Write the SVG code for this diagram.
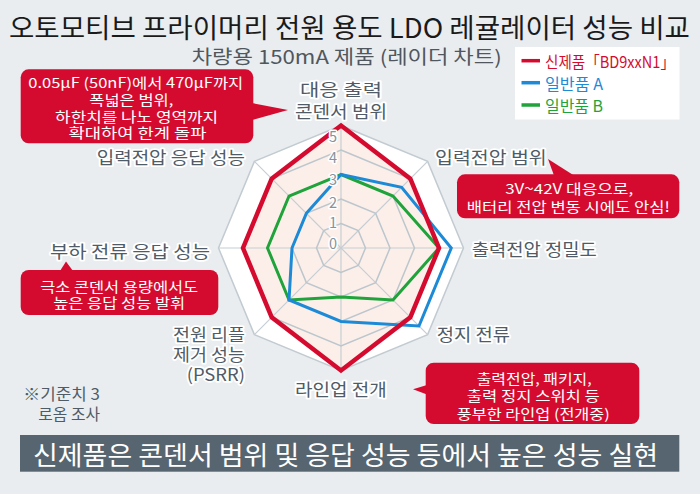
<svg xmlns="http://www.w3.org/2000/svg" width="700" height="494" viewBox="0 0 700 494">
<defs>
<style>
text{font-family:"Noto Sans CJK KR","Noto Sans",sans-serif;dominant-baseline:central}
.title{font-size:27px;fill:#1a1a1a;text-anchor:middle}
.sub{font-size:19px;fill:#50575e;text-anchor:middle}
.ax{font-size:17px;fill:#4f5b66;stroke:#fff;stroke-width:3.5px;stroke-linejoin:round;paint-order:stroke}
.sc{font-size:14.5px;fill:#87929b;stroke:#fff;stroke-width:3px;stroke-linejoin:round;paint-order:stroke;text-anchor:middle}
.note{font-size:15.5px;fill:#4f5b66}
.co{fill:#d40b2f}
.cot{font-size:14px;fill:#fff;text-anchor:middle}
.ring{fill:none;stroke:#bcc6cd;stroke-width:1.5}
.spoke{stroke:#c6ced4;stroke-width:1.2}
.lg{font-size:16px}
</style>
</defs>
<rect x="0" y="0" width="700" height="494" fill="#e9edf0"/>

<g id="title">
<text class="title" x="349.5" y="26" textLength="681" lengthAdjust="spacingAndGlyphs">오토모티브 프라이머리 전원 용도 LDO 레귤레이터 성능 비교</text>
<text class="sub" x="346.7" y="55" textLength="310" lengthAdjust="spacingAndGlyphs">차량용 150mA 제품 (레이더 차트)</text>
</g>

<g id="legend">
<rect x="515" y="47" width="164.5" height="72.5" fill="#fff"/>
<line x1="521.5" y1="60.7" x2="540" y2="60.7" stroke="#d40b2f" stroke-width="3.5"/>
<line x1="521.5" y1="82.7" x2="540" y2="82.7" stroke="#1c8ad6" stroke-width="3.5"/>
<line x1="521.5" y1="105" x2="540" y2="105" stroke="#1fa33a" stroke-width="3.5"/>
<text class="lg" x="545" y="61" fill="#d40b2f" textLength="130" lengthAdjust="spacingAndGlyphs">신제품「BD9xxN1」</text>
<text class="lg" x="545" y="83" fill="#1c8ad6" textLength="58" lengthAdjust="spacingAndGlyphs">일반품 A</text>
<text class="lg" x="545" y="105" fill="#1fa33a" textLength="58" lengthAdjust="spacingAndGlyphs">일반품 B</text>
</g>

<g id="radar-grid">
<polygon points="341,125.5 427.62,161.38 463.5,248 427.62,334.62 341,370.5 254.38,334.62 218.5,248 254.38,161.38" fill="#fff" stroke="#c2cbd1" stroke-width="1.5"/>
<polygon points="341,125.5 410.3,178.7 439,248 410.3,317.3 341,370.5 271.7,317.3 243,248 271.7,178.7" fill="#fcefe9"/>
<g class="spoke">
<line x1="341" y1="248" x2="341" y2="125.5"/>
<line x1="341" y1="248" x2="427.62" y2="161.38"/>
<line x1="341" y1="248" x2="463.5" y2="248"/>
<line x1="341" y1="248" x2="427.62" y2="334.62"/>
<line x1="341" y1="248" x2="341" y2="370.5"/>
<line x1="341" y1="248" x2="254.38" y2="334.62"/>
<line x1="341" y1="248" x2="218.5" y2="248"/>
<line x1="341" y1="248" x2="254.38" y2="161.38"/>
</g>
<polygon class="ring" points="341,223.5 358.32,230.68 365.5,248 358.32,265.32 341,272.5 323.68,265.32 316.5,248 323.68,230.68"/>
<polygon class="ring" points="341,199 375.65,213.35 390,248 375.65,282.65 341,297 306.35,282.65 292,248 306.35,213.35"/>
<polygon class="ring" points="341,174.5 392.97,196.03 414.5,248 392.97,299.97 341,321.5 289.03,299.97 267.5,248 289.03,196.03"/>
<polygon class="ring" points="341,150 410.3,178.7 439,248 410.3,317.3 341,346 271.7,317.3 243,248 271.7,178.7"/>
</g>

<g id="series">
<polygon id="series-b" points="341,174.5 392.97,196.03 439,248 392.97,299.97 341,297 289.03,299.97 267.5,248 289.03,196.03" fill="none" stroke="#1fa33a" stroke-width="3"/>
<polygon id="series-a" points="341,174.5 401.63,187.37 451.25,248 418.96,325.96 341,321.5 289.03,299.97 292,248 306.35,213.35" fill="none" stroke="#1c8ad6" stroke-width="3"/>
<polygon id="series-new" points="341,125.5 410.3,178.7 439,248 410.3,317.3 341,370.5 271.7,317.3 243,248 271.7,178.7" fill="none" stroke="#d40b2f" stroke-width="4.5"/>
</g>

<g id="scale">
<text class="sc" x="333" y="135">5</text>
<text class="sc" x="333" y="156">4</text>
<text class="sc" x="333" y="178.5">3</text>
<text class="sc" x="333" y="201">2</text>
<text class="sc" x="333" y="221.7">1</text>
<text class="sc" x="333" y="242.5">0</text>
</g>

<g id="axis-labels">
<text class="ax" x="300" y="88" textLength="82" lengthAdjust="spacingAndGlyphs">대응 출력</text>
<text class="ax" x="295" y="110" textLength="92" lengthAdjust="spacingAndGlyphs">콘덴서 범위</text>
<text class="ax" x="435" y="156" textLength="111.7" lengthAdjust="spacingAndGlyphs">입력전압 범위</text>
<text class="ax" x="471.7" y="248" textLength="125" lengthAdjust="spacingAndGlyphs">출력전압 정밀도</text>
<text class="ax" x="436.7" y="333" textLength="73.3" lengthAdjust="spacingAndGlyphs">정지 전류</text>
<text class="ax" x="295" y="388.5" textLength="91.7" lengthAdjust="spacingAndGlyphs">라인업 전개</text>
<text class="ax" x="173" y="333.5" textLength="72" lengthAdjust="spacingAndGlyphs">전원 리플</text>
<text class="ax" x="173" y="353.5" textLength="72" lengthAdjust="spacingAndGlyphs">제거 성능</text>
<text class="ax" x="186.7" y="373.5" textLength="58.3" lengthAdjust="spacingAndGlyphs">(PSRR)</text>
<text class="ax" x="50" y="250" textLength="160" lengthAdjust="spacingAndGlyphs">부하 전류 응답 성능</text>
<text class="ax" x="96.7" y="156.7" textLength="148.3" lengthAdjust="spacingAndGlyphs">입력전압 응답 성능</text>
</g>

<g id="note">
<text class="note" x="23.3" y="393.3" textLength="76.7" lengthAdjust="spacingAndGlyphs">※기준치 3</text>
<text class="note" x="38.3" y="412.7" textLength="61.7" lengthAdjust="spacingAndGlyphs">로옴 조사</text>
</g>

<g id="connectors">
<polygon class="co" points="252,103 288,110 252,120"/>
<polygon class="co" points="554,175.5 548,159 574,175.5"/>
<polygon class="co" points="60,271 66,261.5 73,271"/>
<polygon class="co" points="427,385 413,389.3 427,394.5"/>
</g>

<g id="callout-capacitor">
<rect class="co" x="20.7" y="69.3" width="232.6" height="74" rx="8"/>
<text class="cot" x="135.8" y="81.7" textLength="215" lengthAdjust="spacingAndGlyphs">0.05μF (50nF)에서 470μF까지</text>
<text class="cot" x="131.3" y="98.7" textLength="84" lengthAdjust="spacingAndGlyphs">폭넓은 범위,</text>
<text class="cot" x="136.6" y="115.5" textLength="163" lengthAdjust="spacingAndGlyphs">하한치를 나노 영역까지</text>
<text class="cot" x="137.5" y="132" textLength="138" lengthAdjust="spacingAndGlyphs">확대하여 한계 돌파</text>
</g>

<g id="callout-input">
<rect class="co" x="457" y="174.3" width="222.3" height="44" rx="8"/>
<text class="cot" x="569.2" y="188.3" textLength="128" lengthAdjust="spacingAndGlyphs">3V~42V 대응으로,</text>
<text class="cot" x="568.3" y="206.2" textLength="203" lengthAdjust="spacingAndGlyphs">배터리 전압 변동 시에도 안심!</text>
</g>

<g id="callout-load">
<rect class="co" x="20.7" y="270" width="197.6" height="45" rx="8"/>
<text class="cot" x="119.2" y="286.3" textLength="158" lengthAdjust="spacingAndGlyphs">극소 콘덴서 용량에서도</text>
<text class="cot" x="119.2" y="302.2" textLength="132" lengthAdjust="spacingAndGlyphs">높은 응답 성능 발휘</text>
</g>

<g id="callout-lineup">
<rect class="co" x="425.7" y="362.7" width="213.6" height="61.3" rx="8"/>
<text class="cot" x="534.2" y="377.5" textLength="115" lengthAdjust="spacingAndGlyphs">출력전압, 패키지,</text>
<text class="cot" x="533.3" y="395" textLength="133" lengthAdjust="spacingAndGlyphs">출력 정지 스위치 등</text>
<text class="cot" x="533.3" y="412.5" textLength="153" lengthAdjust="spacingAndGlyphs">풍부한 라인업 (전개중)</text>
</g>

<g id="banner">
<rect x="20" y="435" width="659.3" height="36.7" fill="#56656f"/>
<text x="345.5" y="453.5" font-size="26" fill="#fff" text-anchor="middle" textLength="625" lengthAdjust="spacingAndGlyphs">신제품은 콘덴서 범위 및 응답 성능 등에서 높은 성능 실현</text>
</g>
</svg>
